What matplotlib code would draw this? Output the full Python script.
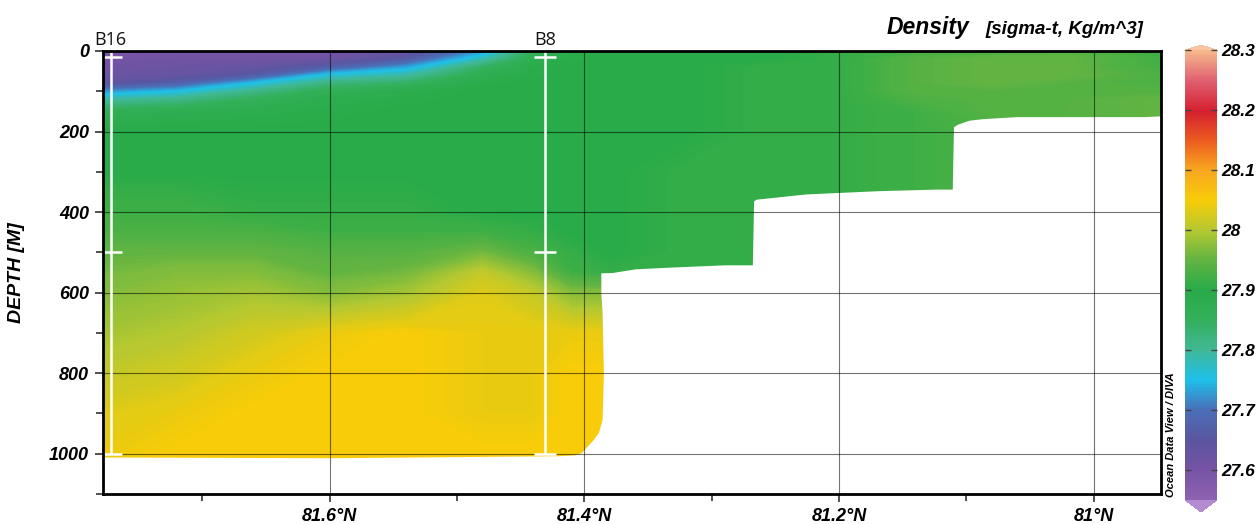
"""Density (sigma-t) section along the B16 - B8 transect, ODV style.

Run: python plot.py
"""
import matplotlib

matplotlib.use("Agg")
import matplotlib.pyplot as plt
import matplotlib.transforms as mtransforms
import numpy as np
from matplotlib.cm import ScalarMappable
from matplotlib.colors import LinearSegmentedColormap, Normalize

# section grid
LATS = [81.78, 81.72, 81.66, 81.60, 81.54, 81.48, 81.44, 81.41,
        81.38, 81.32, 81.26, 81.20, 81.14, 81.08, 81.02, 80.94]
DEPTHS = [0, 20, 40, 60, 80, 100, 120, 150, 200, 300, 400, 450,
          500, 550, 600, 700, 800, 900, 1000, 1100]

# one row per depth, one value per latitude
SIGMA_T = [
    [27.58, 27.60, 27.60, 27.59, 27.62, 27.72, 27.85, 27.89, 27.90, 27.90, 27.90, 27.91, 27.92, 27.93, 27.94, 27.91],
    [27.60, 27.61, 27.61, 27.62, 27.66, 27.78, 27.87, 27.89, 27.90, 27.90, 27.90, 27.91, 27.94, 27.95, 27.95, 27.92],
    [27.61, 27.62, 27.63, 27.67, 27.73, 27.84, 27.89, 27.90, 27.90, 27.90, 27.91, 27.91, 27.94, 27.95, 27.95, 27.92],
    [27.62, 27.63, 27.66, 27.76, 27.79, 27.87, 27.89, 27.90, 27.90, 27.90, 27.91, 27.91, 27.94, 27.95, 27.95, 27.93],
    [27.64, 27.67, 27.75, 27.82, 27.84, 27.89, 27.90, 27.90, 27.90, 27.90, 27.91, 27.91, 27.94, 27.95, 27.94, 27.93],
    [27.72, 27.75, 27.81, 27.86, 27.88, 27.90, 27.90, 27.90, 27.90, 27.90, 27.91, 27.91, 27.94, 27.94, 27.94, 27.94],
    [27.79, 27.81, 27.85, 27.88, 27.89, 27.90, 27.90, 27.90, 27.90, 27.90, 27.91, 27.91, 27.93, 27.94, 27.94, 27.95],
    [27.86, 27.87, 27.88, 27.89, 27.90, 27.90, 27.90, 27.90, 27.90, 27.90, 27.91, 27.91, 27.92, 27.94, 27.94, 27.95],
    [27.90, 27.90, 27.90, 27.90, 27.90, 27.90, 27.90, 27.90, 27.90, 27.90, 27.91, 27.91, 27.92, 27.93, 27.94, 27.95],
    [27.90, 27.90, 27.90, 27.90, 27.90, 27.90, 27.90, 27.90, 27.90, 27.91, 27.91, 27.91, 27.92, 27.93, 27.94, 27.95],
    [27.92, 27.92, 27.91, 27.91, 27.91, 27.90, 27.90, 27.90, 27.90, 27.91, 27.91, 27.91, 27.92, 27.93, 27.94, 27.95],
    [27.93, 27.93, 27.93, 27.92, 27.92, 27.92, 27.91, 27.90, 27.90, 27.91, 27.91, 27.91, 27.92, 27.93, 27.94, 27.95],
    [27.95, 27.95, 27.95, 27.94, 27.94, 27.96, 27.93, 27.91, 27.90, 27.91, 27.91, 27.91, 27.92, 27.93, 27.94, 27.95],
    [27.96, 27.97, 27.97, 27.95, 27.96, 28.01, 27.97, 27.92, 27.91, 27.91, 27.91, 27.91, 27.92, 27.93, 27.94, 27.95],
    [27.97, 27.98, 27.99, 27.97, 27.99, 28.03, 28.01, 27.97, 27.97, 27.91, 27.91, 27.91, 27.92, 27.93, 27.94, 27.95],
    [27.99, 28.00, 28.02, 28.04, 28.05, 28.04, 28.04, 28.04, 28.04, 27.91, 27.91, 27.91, 27.92, 27.93, 27.94, 27.95],
    [28.01, 28.02, 28.04, 28.05, 28.05, 28.04, 28.04, 28.05, 28.05, 27.91, 27.91, 27.91, 27.92, 27.93, 27.94, 27.95],
    [28.03, 28.04, 28.05, 28.05, 28.05, 28.04, 28.04, 28.05, 28.05, 27.91, 27.91, 27.91, 27.92, 27.93, 27.94, 27.95],
    [28.04, 28.05, 28.05, 28.05, 28.05, 28.05, 28.05, 28.05, 28.05, 27.91, 27.91, 27.91, 27.92, 27.93, 27.94, 27.95],
    [28.04, 28.05, 28.05, 28.05, 28.05, 28.05, 28.05, 28.05, 28.05, 27.91, 27.91, 27.91, 27.92, 27.93, 27.94, 27.95],
]

# lower edge of the gridded field (staircase bottom)
BOTTOM_LAT = [81.79, 81.60, 81.42, 81.408, 81.402, 81.398, 81.393, 81.389, 81.386, 81.385,
              81.386, 81.387, 81.387, 81.378, 81.360, 81.335, 81.290, 81.268, 81.267, 81.265,
              81.226, 81.170, 81.124, 81.111, 81.110, 81.107, 81.098, 81.087, 81.060, 80.960, 80.940]
BOTTOM_DEPTH = [1008, 1010, 1005, 1003, 997, 982, 965, 948, 915, 800,
                650, 600, 551, 550, 541, 537, 531, 531, 372, 368,
                355, 347, 343, 343, 188, 182, 172, 168, 163, 163, 160]

STATIONS = ["B16", "B8"]
STATION_LATS = [81.772, 81.431]
STATION_MARKS = [15, 500, 1000]

X_TICKS = [81.6, 81.4, 81.2, 81.0]
X_LABELS = ["81.6°N", "81.4°N", "81.2°N", "81°N"]
X_MINOR = [81.7, 81.5, 81.3, 81.1]
Y_TICKS = [0, 200, 400, 600, 800, 1000]
Y_MINOR = [100, 300, 500, 700, 900, 1100]
CB_TICKS = [27.6, 27.7, 27.8, 27.9, 28.0, 28.1, 28.2, 28.3]
CB_LABELS = ["27.6", "27.7", "27.8", "27.9", "28", "28.1", "28.2", "28.3"]

# ODV-like palette, anchored on sigma-t values
CMAP_VALUES = [27.55, 27.60, 27.65, 27.70, 27.75, 27.80, 27.85, 27.90,
               27.95, 28.00, 28.05, 28.10, 28.15, 28.20, 28.25, 28.30]
CMAP_COLORS = ["#8d62b0", "#7653a4", "#5a55a0", "#4a70b8", "#1ec0ea", "#40b896",
               "#33b05a", "#28ab48", "#62b442", "#b4c830", "#f8cc08", "#f8a820",
               "#ec5a20", "#d42030", "#e06070", "#f6b88c"]

VMIN, VMAX = 27.55, 28.3

plt.rcParams["font.family"] = ["Liberation Sans", "DejaVu Sans"]

cmap = LinearSegmentedColormap.from_list(
    "odv", list(zip([(v - VMIN) / (VMAX - VMIN) for v in CMAP_VALUES], CMAP_COLORS)))
cmap.set_under("#b48ad0")
cmap.set_over("#f8c4a4")
norm = Normalize(vmin=VMIN, vmax=VMAX)

fig = plt.figure(figsize=(12.59, 5.24), dpi=100)
ax = fig.add_axes([0.0818, 0.0573, 0.8404, 0.8454])

ax.contourf(LATS, DEPTHS, np.array(SIGMA_T), levels=np.linspace(VMIN, VMAX, 301),
            cmap=cmap, norm=norm, extend="both", antialiased=False, zorder=1)
ax.fill_between(BOTTOM_LAT, BOTTOM_DEPTH, 1100, color="white", lw=0, zorder=2)

# stations
top_tr = mtransforms.blended_transform_factory(ax.transData, ax.transAxes)
for name, lat in zip(STATIONS, STATION_LATS):
    ax.plot([lat, lat], [0, 1000], color="white", lw=1.8, zorder=4, solid_capstyle="butt")
    ax.hlines(STATION_MARKS, lat - 0.0086, lat + 0.0086, color="white", lw=1.8, zorder=4)
    ax.text(lat, 1.004, name, transform=top_tr, ha="center", va="bottom",
            fontsize=13, family="Open Sans", color="#111")

ax.set_xlim(81.778, 80.947)
ax.set_ylim(1100, 0)

ax.set_xticks(X_TICKS)
ax.set_xticklabels(X_LABELS)
ax.set_xticks(X_MINOR, minor=True)
ax.set_yticks(Y_TICKS)
ax.set_yticks(Y_MINOR, minor=True)
for lab in ax.get_xticklabels() + ax.get_yticklabels():
    lab.set_fontweight("bold")
    lab.set_fontstyle("italic")
    lab.set_fontsize(13)
ax.tick_params(which="both", direction="out", color="#333", width=1.2, length=6, pad=4)
ax.tick_params(which="minor", length=5)

ax.set_axisbelow(False)
ax.grid(True, which="major", color="black", alpha=0.55, lw=0.8)
for sp in ax.spines.values():
    sp.set_linewidth(2.0)
    sp.set_color("black")
    sp.set_zorder(5)

ax.set_ylabel("DEPTH [M]", fontsize=14, fontweight="bold", fontstyle="italic")
ax.yaxis.set_label_coords(-0.074, 0.5)

fig.text(0.770, 0.935, "Density", ha="right", va="baseline",
         fontsize=16.5, fontweight="bold", fontstyle="italic")
fig.text(0.908, 0.935, "[sigma-t, Kg/m^3]", ha="right", va="baseline",
         fontsize=13.5, fontweight="bold", fontstyle="italic")
fig.text(0.9305, 0.052, "Ocean Data View / DIVA", rotation=90, ha="center", va="bottom",
         fontsize=8, fontweight="bold", fontstyle="italic")

# colour bar
cax = fig.add_axes([0.9412, 0.0229, 0.0254, 0.891])
cb = fig.colorbar(ScalarMappable(norm=norm, cmap=cmap), cax=cax, extend="both",
                  extendfrac=(0.027, 0.011), ticks=CB_TICKS)
cb.outline.set_visible(False)
cb.ax.set_yticklabels(CB_LABELS)
for lab in cb.ax.get_yticklabels():
    lab.set_fontweight("bold")
    lab.set_fontstyle("italic")
    lab.set_fontsize(12.5)
cb.ax.tick_params(direction="in", left=True, right=True, length=4, width=1.0, color="#444", pad=3)
cb.ax.minorticks_off()

fig.savefig("out.png", dpi=100)
plt.close(fig)
